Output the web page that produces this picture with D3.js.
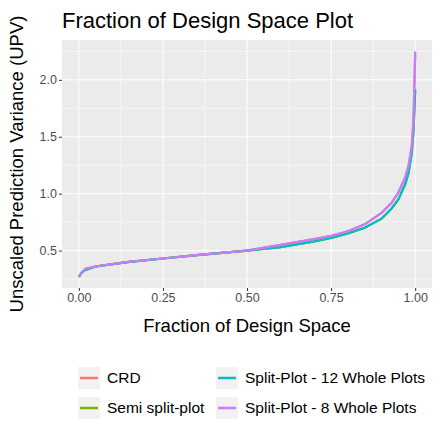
<!DOCTYPE html>
<html><head><meta charset="utf-8">
<script src="https://cdn.jsdelivr.net/npm/d3@7"></script>
<style>body{margin:0;background:#fff;font-family:Arial,"Liberation Sans",sans-serif}</style>
</head><body><svg id="chart" width="442" height="442"></svg>
<script>
const fraction = [0, 0.01, 0.02, 0.05, 0.1, 0.15, 0.25, 0.35, 0.5, 0.6, 0.7, 0.75, 0.8, 0.85, 0.9, 0.93, 0.95, 0.97, 0.98, 0.99, 0.995, 1.0];
const crd = [0.27, 0.31, 0.34, 0.36, 0.38, 0.40, 0.43, 0.46, 0.50, 0.55, 0.60, 0.63, 0.67, 0.73, 0.83, 0.92, 1.01, 1.14, 1.24, 1.42, 1.65, 2.22];
const semi = [0.27, 0.31, 0.33, 0.36, 0.38, 0.40, 0.43, 0.46, 0.50, 0.53, 0.58, 0.61, 0.65, 0.70, 0.78, 0.87, 0.95, 1.08, 1.18, 1.36, 1.55, 1.90];
const split12 = [0.27, 0.31, 0.33, 0.36, 0.38, 0.40, 0.43, 0.46, 0.50, 0.53, 0.58, 0.61, 0.65, 0.70, 0.78, 0.87, 0.95, 1.08, 1.18, 1.36, 1.55, 1.92];
const split8 = [0.27, 0.31, 0.34, 0.36, 0.38, 0.40, 0.43, 0.46, 0.50, 0.55, 0.60, 0.63, 0.67, 0.73, 0.83, 0.92, 1.01, 1.14, 1.24, 1.42, 1.65, 2.25];
const seriesNames = ["CRD", "Semi split-plot", "Split-Plot - 12 Whole Plots", "Split-Plot - 8 Whole Plots"];
const colors = ["#F8766D", "#7CAE00", "#00BFC4", "#C77CFF"];
const xTicks = [0, 0.25, 0.5, 0.75, 1.0];
const yTicks = [0.5, 1.0, 1.5, 2.0];

const svg = d3.select('#chart');
const L = 62, R = 432, T = 40, B = 288;
const x = d3.scaleLinear().domain([-0.05, 1.05]).range([L, R]);
const y = d3.scaleLinear().domain([0.171, 2.35]).range([B, T]);

svg.append('rect').attr('x', L).attr('y', T).attr('width', R - L).attr('height', B - T).attr('fill', '#EBEBEB');
const minorX = [0.125, 0.375, 0.625, 0.875], minorY = [0.25, 0.75, 1.25, 1.75, 2.25];
minorX.forEach(v => svg.append('line').attr('x1', x(v)).attr('x2', x(v)).attr('y1', T).attr('y2', B).attr('stroke', '#fff').attr('stroke-width', 0.5));
minorY.forEach(v => svg.append('line').attr('y1', y(v)).attr('y2', y(v)).attr('x1', L).attr('x2', R).attr('stroke', '#fff').attr('stroke-width', 0.5));
xTicks.forEach(v => svg.append('line').attr('x1', x(v)).attr('x2', x(v)).attr('y1', T).attr('y2', B).attr('stroke', '#fff').attr('stroke-width', 1));
yTicks.forEach(v => svg.append('line').attr('y1', y(v)).attr('y2', y(v)).attr('x1', L).attr('x2', R).attr('stroke', '#fff').attr('stroke-width', 1));

const xAxis = svg.append('g').attr('transform', `translate(0,${B})`)
    .call(d3.axisBottom(x).tickValues(xTicks).tickFormat(d3.format('.2f')).tickSize(3).tickPadding(2));
const yAxis = svg.append('g').attr('transform', `translate(${L},0)`)
    .call(d3.axisLeft(y).tickValues(yTicks).tickFormat(d3.format('.1f')).tickSize(3).tickPadding(2));
[xAxis, yAxis].forEach(a => {
    a.select('.domain').remove();
    a.selectAll('line').attr('stroke', '#333');
    a.selectAll('text').attr('fill', '#4D4D4D').style('font-size', '12.5px').style('font-family', 'Arial, Liberation Sans');
});

const line = d3.line().x((d, i) => x(fraction[i])).y(d => y(d));
[crd, semi, split12, split8].forEach((s, i) => {
    svg.append('path').datum(s).attr('fill', 'none').attr('stroke', colors[i]).attr('stroke-width', 2.2).attr('d', line);
});

svg.append('text').attr('x', L).attr('y', 28).style('font-size', '22px').attr('fill', '#000').text('Fraction of Design Space Plot');
svg.append('text').attr('x', (L + R) / 2).attr('y', 332).attr('text-anchor', 'middle').style('font-size', '18.5px').text('Fraction of Design Space');
svg.append('text').attr('transform', `translate(23,${(T + B) / 2}) rotate(-90)`).attr('text-anchor', 'middle').style('font-size', '18.5px').text('Unscaled Prediction Variance (UPV)');

const legPos = [[78, 378], [78, 408], [216, 378], [216, 408]];
seriesNames.forEach((n, i) => {
    const [lx, ly] = legPos[i];
    svg.append('rect').attr('x', lx).attr('y', ly - 11).attr('width', 22).attr('height', 22).attr('fill', '#F2F2F2');
    svg.append('line').attr('x1', lx + 2).attr('x2', lx + 20).attr('y1', ly).attr('y2', ly).attr('stroke', colors[i]).attr('stroke-width', 2.5);
    svg.append('text').attr('x', lx + 29).attr('y', ly + 5).style('font-size', '15.5px').text(n);
});
</script></body></html>
